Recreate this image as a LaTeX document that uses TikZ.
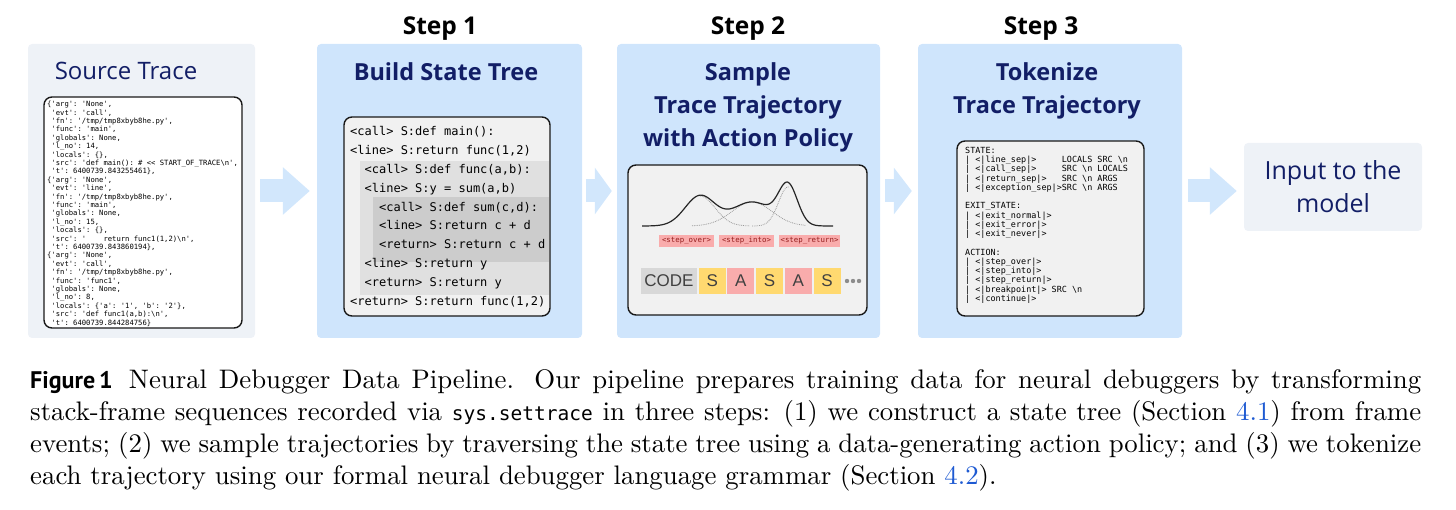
\documentclass[tikz,border=0pt]{standalone}
\usepackage{fontspec}
\setmainfont{lmroman10-regular}[Extension=.otf]
\setsansfont{Open Sans}
\setmonofont{DejaVu Sans Mono}
\newfontfamily\figfont{Liberation Sans}
\newfontfamily\labelfont{PT Sans}
\usepackage{tikz}
\usetikzlibrary{arrows.meta,positioning}

\definecolor{navy}{RGB}{18,30,102}
\definecolor{stepblue}{RGB}{207,229,252}
\definecolor{paleblue}{RGB}{238,242,247}
\definecolor{arrowblue}{RGB}{210,231,252}
\definecolor{panelgray}{RGB}{241,241,241}
\definecolor{nestone}{RGB}{224,224,224}
\definecolor{nesttwo}{RGB}{204,204,204}
\definecolor{actpink}{RGB}{249,172,172}
\definecolor{actred}{RGB}{150,30,30}
\definecolor{stateyellow}{RGB}{255,217,112}
\definecolor{codegray}{RGB}{216,216,216}
\definecolor{reflink}{RGB}{30,90,210}

\begin{document}
\begin{tikzpicture}[
  x=1pt, y=-1pt,
  stagebox/.style={draw=none, rounded corners=4pt, inner sep=0pt},
  panel/.style={draw=black!90, line width=1.4pt, rounded corners=8pt, inner sep=0pt},
  title/.style={font=\sffamily\fontsize{24}{33}\selectfont, text=navy, align=center, inner sep=0pt, anchor=north},
  boldtitle/.style={title, font=\sffamily\bfseries\fontsize{23.5}{33}\selectfont},
  steplabel/.style={font=\sffamily\bfseries\fontsize{24.5}{26}\selectfont, inner sep=0pt, anchor=base},
  flowarrow/.style={draw=arrowblue, line width=23pt, -{Triangle[length=27pt,width=46pt]}},
  tok/.style={minimum width=27pt, minimum height=26pt, inner sep=0pt, font=\figfont\fontsize{17}{17}\selectfont, text=black!75},
  act/.style={fill=actpink, inner sep=0pt, minimum height=12pt, font=\ttfamily\fontsize{7.4}{8}\selectfont, text=actred},
  codeline/.style={anchor=west, inner sep=0pt, text height=9pt, text depth=3pt, font=\ttfamily\fontsize{12}{12}\selectfont},
  mix/.style={draw=black!85, line width=1.2pt},
  part/.style={draw=black!40, densely dotted, line width=0.8pt}
]
\useasboundingbox (0,0) rectangle (1456,510);

\node[stagebox, fill=paleblue, minimum width=227pt, minimum height=294pt] (src) at (141.5,191) {};
\node[stagebox, fill=stepblue, minimum width=265pt, minimum height=294pt] (tree) at (449.5,191) {};
\node[stagebox, fill=stepblue, minimum width=263pt, minimum height=294pt] (sample) at (748.5,191) {};
\node[stagebox, fill=stepblue, minimum width=264pt, minimum height=294pt] (tokens) at (1050,191) {};
\node[stagebox, fill=paleblue, minimum width=178pt, minimum height=88pt, align=center,
  font=\sffamily\fontsize{25}{33}\selectfont, text=navy] (input) at (1333,187) {Input to the\\model};

\node[steplabel] (s1) at (440,35) {Step 1};
\node[steplabel] (s2) at (748,35) {Step 2};
\node[steplabel] (s3) at (1041,35) {Step 3};

\node[title] (srctitle) at (126,62) {Source Trace};
\node[boldtitle] (treetitle) at (446,62) {Build State Tree};
\node[boldtitle] (sampletitle) at (748,62) {Sample\\Trace Trajectory\\with Action Policy};
\node[boldtitle] (tokentitle) at (1047,62) {Tokenize\\Trace Trajectory};

\draw[flowarrow, shorten <=5pt, shorten >=7pt] (src) -- (tree);
\draw[flowarrow, shorten <=4pt, shorten >=5pt, -{Triangle[length=17pt,width=46pt]}] (tree) -- (sample);
\draw[flowarrow, shorten <=5pt, shorten >=6pt, -{Triangle[length=18pt,width=46pt]}] (sample) -- (tokens);
\draw[flowarrow, shorten <=6pt, shorten >=7pt] (tokens.east) -- (tokens.east -| input.west);

\node[panel, fill=white, minimum width=198pt, minimum height=231pt] (trace) at (143,212.5) {};
\node[anchor=north west, inner sep=0pt, align=left, font=\ttfamily\fontsize{7.2}{8.4}\selectfont] (tracetext) at (47,101) {%
\{'arg': 'None',\\
~'evt': 'call',\\
~'fn': '/tmp/tmp8xbyb8he.py',\\
~'func': 'main',\\
~'globals': None,\\
~'l\_no': 14,\\
~'locals': \{\},\\
~'src': 'def main(): \# << START\_OF\_TRACE\textbackslash n',\\
~'t': 6400739.843255461\},\\
\{'arg': 'None',\\
~'evt': 'line',\\
~'fn': '/tmp/tmp8xbyb8he.py',\\
~'func': 'main',\\
~'globals': None,\\
~'l\_no': 15,\\
~'locals': \{\},\\
~'src': '~~~~return func1(1,2)\textbackslash n',\\
~'t': 6400739.843860194\},\\
\{'arg': 'None',\\
~'evt': 'call',\\
~'fn': '/tmp/tmp8xbyb8he.py',\\
~'func': 'func1',\\
~'globals': None,\\
~'l\_no': 8,\\
~'locals': \{'a': '1', 'b': '2'\},\\
~'src': 'def func1(a,b):\textbackslash n',\\
~'t': 6400739.844284756\}};

\node[panel, fill=panelgray, minimum width=206pt, minimum height=199pt] (treecode) at (447,216.5) {};
\fill[nestone] (360,161) rectangle (549.3,295);
\fill[nesttwo] (373,197) rectangle (549.3,262);
\foreach \txt [count=\i] in {
  {<call> S:def main():},
  {<line> S:return func(1,2)},
  {~~<call> S:def func(a,b):},
  {~~<line> S:y = sum(a,b)},
  {~~~~<call> S:def sum(c,d):},
  {~~~~<line> S:return c + d},
  {~~~~<return> S:return c + d},
  {~~<line> S:return y},
  {~~<return> S:return y},
  {<return> S:return func(1,2)}}
  \node[codeline] (tl\i) at (350,114.2+18.8*\i) {\txt};

\node[panel, fill=panelgray, minimum width=239pt, minimum height=150pt] (policy) at (747.5,240) {};
\draw[part] plot[domain=700:750, samples=40] (\x,{226-30*exp(max(-9,-0.5*pow((\x-700)/15,2)))});
\draw[part] plot[domain=692:806, samples=80] (\x,{226-24*exp(max(-9,-0.5*pow((\x-752)/20,2)))});
\draw[part] plot[domain=752:789, samples=40] (\x,{226-39*exp(max(-9,-0.5*pow((\x-788)/9.5,2)))});
\draw[mix] plot[domain=642:833, samples=160] (\x,{226-30*exp(max(-9,-0.5*pow((\x-700)/15,2)))-24*exp(max(-9,-0.5*pow((\x-752)/20,2)))-39*exp(max(-9,-0.5*pow((\x-788)/9.5,2)))});
\node[act, minimum width=55pt] (over) at (686.5,241) {<step\_over>};
\node[act, minimum width=55pt] (into) at (746.5,241) {<step\_into>};
\node[act, minimum width=61pt] (ret) at (809.5,241) {<step\_return>};

\node[tok, fill=codegray, minimum width=56pt] (code) at (669,281) {CODE};
\node[tok, fill=stateyellow, right=1.3pt of code] (t1) {S};
\node[tok, fill=actpink, right=1.3pt of t1] (t2) {A};
\node[tok, fill=stateyellow, right=1.3pt of t2] (t3) {S};
\node[tok, fill=actpink, right=1.3pt of t3] (t4) {A};
\node[tok, fill=stateyellow, right=1.3pt of t4] (t5) {S};
\foreach \d in {0,1,2}
  \fill[black!45] (847+6*\d,281) circle (2.2pt);

\node[panel, fill=panelgray, minimum width=187pt, minimum height=175pt] (grammar) at (1050.5,228.5) {};
\node[anchor=north west, inner sep=0pt, align=left, font=\ttfamily\fontsize{8.45}{9.25}\selectfont] (grammartext) at (965,147) {%
STATE:\\
| <|line\_sep|>~~~~~LOCALS SRC \textbackslash n\\
| <|call\_sep|>~~~~~SRC \textbackslash n LOCALS\\
| <|return\_sep|>~~~SRC \textbackslash n ARGS\\
| <|exception\_sep|>SRC \textbackslash n ARGS\\
~\\
EXIT\_STATE:\\
| <|exit\_normal|>\\
| <|exit\_error|>\\
| <|exit\_never|>\\
~\\
ACTION:\\
| <|step\_over|>\\
| <|step\_into|>\\
| <|step\_return|>\\
| <|breakpoint|> SRC \textbackslash n\\
| <|continue|>};

\node[anchor=north west, inner sep=0pt, text width=1391pt, align=justify,
  font=\fontsize{26.8}{32.3}\selectfont] (caption) at (30,369) {%
{\labelfont\bfseries\fontsize{24}{32.3}\selectfont Figure\,1}\hspace{0.6em}Neural Debugger Data Pipeline. Our pipeline prepares training data for neural debuggers by transforming\linebreak
stack-frame sequences recorded via {\ttfamily\fontsize{19.5}{32.3}\selectfont sys.settrace} in three steps: (1) we construct a state tree (Section \textcolor{reflink}{4.1}) from frame\linebreak
events; (2) we sample trajectories by traversing the state tree using a data-generating action policy; and (3) we tokenize\linebreak
each trajectory using our formal neural debugger language grammar (Section \textcolor{reflink}{4.2}).};
\end{tikzpicture}
\end{document}
